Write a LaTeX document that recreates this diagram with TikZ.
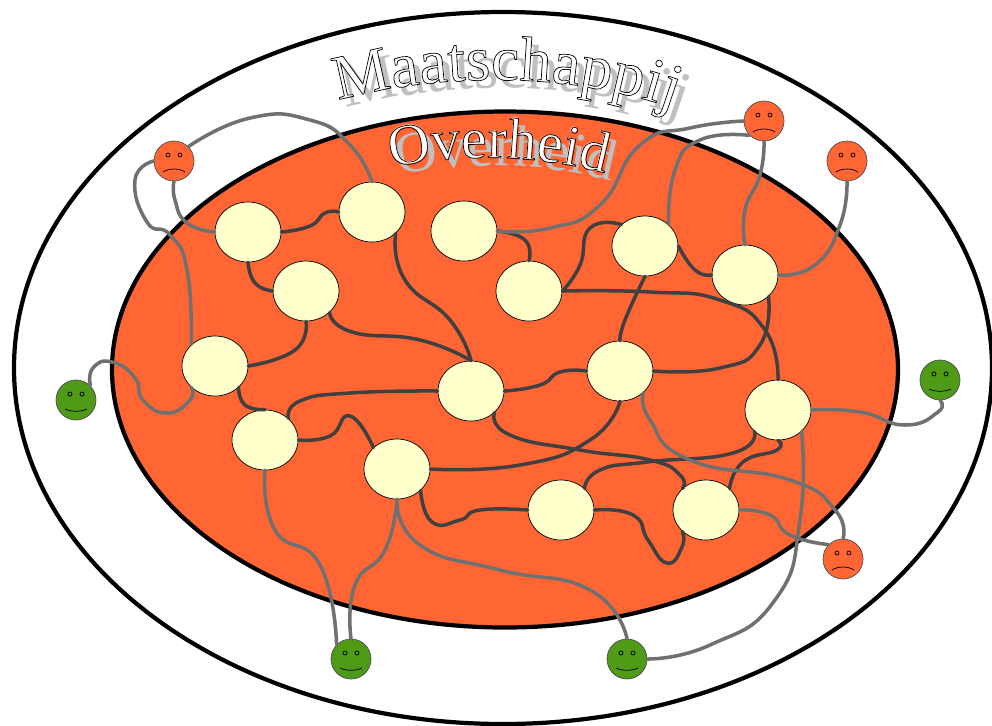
\documentclass[tikz,border=0pt]{standalone}
\usepackage{fontspec}
\setmainfont{Liberation Serif}
\usetikzlibrary{shapes.geometric,decorations.text}

\definecolor{gov}{HTML}{FF6633}
\definecolor{cream}{HTML}{FFFFCC}
\definecolor{happy}{HTML}{4F9A17}
\definecolor{darkwire}{HTML}{404040}
\definecolor{greywire}{HTML}{707070}
\definecolor{shade}{HTML}{C0C0C0}

\newcommand{\maatfont}{\fontsize{36}{36}\selectfont}
\newcommand{\overfont}{\fontsize{33}{33}\selectfont}
% #1 shift, #2 colour, #3 path, #4 font, #5 text
\newcommand{\archtext}[5]{\path[shift={#1},decorate,decoration={text along path,text align=center,text={|#4\color{#2}|#5}}] #3;}

\tikzset{
    agency/.style={ellipse,draw=black,line width=0.4pt,fill=cream,minimum width=1.32cm,minimum height=1.2cm,inner sep=0pt},
    person/.style={circle,draw=black!70,line width=0.4pt,minimum size=0.8cm,inner sep=0pt},
    sad/.style={person,fill=gov},
    glad/.style={person,fill=happy},
    wire/.style={line width=2pt,line cap=round,smooth,tension=0.9},
    inner wire/.style={wire,color=darkwire},
    outer wire/.style={wire,color=greywire},
    facepart/.style={line width=0.4pt}
}

\begin{document}
\begin{tikzpicture}[x=0.02cm,y=-0.02cm]
    \useasboundingbox (0,0) rectangle (992,725);
    \fill[white] (0,0) rectangle (992,725);

    % the two rings
    \draw[line width=2.4pt,fill=white] (503,368) ellipse [x radius=489,y radius=356];
    \draw[line width=2.4pt,fill=gov] (505,369.5) ellipse [x radius=393,y radius=258];

    % titles
    \def\maatpath{(340,100) .. controls (440,72) and (570,72) .. (672,108)}
    \def\overpath{(388,168) .. controls (460,152) and (540,155) .. (608,174)}
    \archtext{(8,8)}{shade}{\maatpath}{\maatfont}{Maatschappij}
    \archtext{(7,8)}{shade}{\overpath}{\overfont}{Overheid}

    % agencies
    \foreach \name/\x/\y in {a/248/232, b/372/212, c/306/291, d/215/366, e/265/440,
                             f/397/469, g/464/231, h/529/291, i/645/246, j/745/275,
                             k/471/391, l/620/371, m/778/410, n/561/510, o/706/510}
        \node[agency] (\name) at (\x,\y) {};

    % people
    \foreach \name/\x/\y in {s1/174/161, s2/764/121, s3/847/161, s4/843/559} {
        \node[sad] (\name) at (\x,\y) {};
        \draw[facepart] ([shift={(-6,-6)}]\name.center) circle (2);
        \draw[facepart] ([shift={(6,-6)}]\name.center) circle (2);
        \draw[facepart] ([shift={(-11,11)}]\name.center) .. controls +(6,-4) and +(-6,-4) .. +(22,0);
    }
    \foreach \name/\x/\y in {g1/76/400, g2/940/380, g3/351/659, g4/627/659} {
        \node[glad] (\name) at (\x,\y) {};
        \draw[facepart] ([shift={(-6,-6)}]\name.center) circle (2);
        \draw[facepart] ([shift={(6,-6)}]\name.center) circle (2);
        \draw[facepart] ([shift={(-11,9)}]\name.center) .. controls +(6,3) and +(-6,3) .. +(22,0);
    }

    % inside the government
    \draw[inner wire] plot coordinates {(a.east) (310,226) (325,213) (b.west)};
    \draw[inner wire] plot coordinates {(a.south) (255,283) (c.west)};
    \draw[inner wire] plot coordinates {(b.south east) (405,280) (450,320) (k.north)};
    \draw[inner wire] plot coordinates {(c.south east) (352,332) (420,340) (k.north)};
    \draw[inner wire] plot coordinates {(c.south) (295,350) (d.east)};
    \draw[inner wire] plot coordinates {(d.south east) (245,405) (e.north)};
    \draw[inner wire] plot coordinates {(e.east) (330,436) (350,416) (f.north west)};
    \draw[inner wire] plot coordinates {(e.north east) (300,401) (350,393) (k.west)};
    \draw[inner wire] plot coordinates {(f.east) (520,465) (590,440) (l.south)};
    \draw[inner wire] plot coordinates {(f.south east) (432,522) (460,520) (480,510) (n.west)};
    \draw[inner wire] plot coordinates {(g.east) (525,240) (h.north)};
    \draw[inner wire] plot coordinates {(h.east) (580,265) (590,228) (i.north west)};
    \draw[inner wire] plot coordinates {(h.east) (650,292) (720,300) (765,330) (m.north)};
    \draw[inner wire] plot coordinates {(i.east) (695,270) (j.west)};
    \draw[inner wire] plot coordinates {(i.south) (625,320) (l.north)};
    \draw[inner wire] plot coordinates {(j.south east) (760,345) (720,368) (l.east)};
    \draw[inner wire] plot coordinates {(k.east) (540,385) (560,372) (l.west)};
    \draw[inner wire] plot coordinates {(k.south east) (510,435) (580,450) (650,460) (680,475) (o.north west)};
    \draw[inner wire] plot coordinates {(n.north east) (600,470) (647,462) (733,453) (m.south west)};
    \draw[inner wire] plot coordinates {(o.north east) (743,462) (777,450) (m.south)};
    \draw[inner wire] plot coordinates {(n.east) (633,515) (648,540) (667,563) (682,547) (o.south west)};

    % out to the people
    \draw[outer wire] plot coordinates {(s1.north east) (250,118) (310,120) (350,145) (b.north)};
    \draw[outer wire] plot coordinates {(s1.west) (135,180) (147,222) (170,235) (187,270) (d.north west)};
    \draw[outer wire] plot coordinates {(s1.south) (175,200) (187,223) (a.west)};
    \draw[outer wire] plot coordinates {(g1.north east) (93,368) (112,362) (135,378) (143,400) (167,413) (190,400) (d.south west)};
    \draw[outer wire] plot coordinates {(s2.west) (690,128) (640,145) (600,205) (550,228) (g.east)};
    \draw[outer wire] plot coordinates {(s2.south west) (700,140) (675,170) (i.north east)};
    \draw[outer wire] plot coordinates {(s2.south) (760,175) (745,210) (j.north)};
    \draw[outer wire] plot coordinates {(s3.south) (840,225) (815,265) (j.east)};
    \draw[outer wire] plot coordinates {(m.east) (860,412) (905,425) (938,412) (g2.south)};
    \draw[outer wire] plot coordinates {(m.south east) (800,520) (775,600) (710,645) (g4.east)};
    \draw[outer wire] plot coordinates {(l.south east) (650,420) (690,460) (790,480) (835,510) (s4.north)};
    \draw[outer wire] plot coordinates {(o.east) (770,515) (790,535) (s4.north west)};
    \draw[outer wire] plot coordinates {(f.south) (420,545) (500,570) (590,590) (g4.north)};
    \draw[outer wire] plot coordinates {(f.south) (385,550) (355,585) (g3.north)};
    \draw[outer wire] plot coordinates {(e.south) (275,530) (320,565) (g3.north west)};

    % white letters, then only their outline on top
    \archtext{(0,0)}{white}{\maatpath}{\maatfont}{Maatschappij}
    \archtext{(0,0)}{white}{\overpath}{\overfont}{Overheid}
    \begin{scope}
        \special{pdf:code 1 Tr 0.4 w}
        \archtext{(0,0)}{black}{\maatpath}{\maatfont}{Maatschappij}
        \archtext{(0,0)}{black}{\overpath}{\overfont}{Overheid}
        \special{pdf:code 0 Tr}
    \end{scope}
\end{tikzpicture}
\end{document}
